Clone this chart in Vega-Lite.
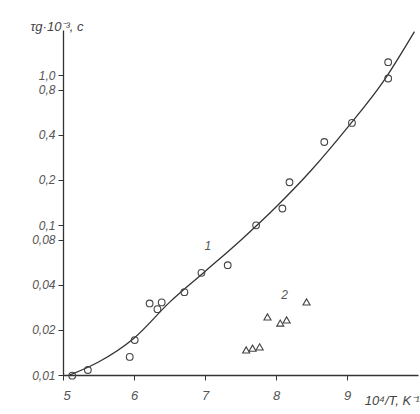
{
  "$schema": "https://vega.github.io/schema/vega-lite/v6.json",
  "autosize": "none",
  "width": 355,
  "height": 345,
  "padding": {"left": 63, "top": 30, "right": 2, "bottom": 39},
  "background": "white",
  "config": {
    "view": {"stroke": null},
    "font": "Liberation Sans",
    "axis": {"grid": false, "domainColor": "#333", "tickColor": "#333", "labelColor": "#555", "titleColor": "#444", "labelFont": "Liberation Sans", "labelFontStyle": "italic", "labelFontSize": 12, "titleFont": "Liberation Sans", "titleFontStyle": "italic", "titleFontWeight": "normal", "titleFontSize": 13, "domainWidth": 1.3, "tickSize": 5}
  },
  "datasets": {
    "curve": [
      {"x": 5.05, "y": 0.0098}, {"x": 5.5, "y": 0.0122}, {"x": 6.0, "y": 0.0176}, {"x": 6.5, "y": 0.0305},
      {"x": 7.0, "y": 0.049}, {"x": 7.5, "y": 0.079}, {"x": 8.0, "y": 0.132}, {"x": 8.5, "y": 0.233},
      {"x": 9.0, "y": 0.443}, {"x": 9.5, "y": 0.89}, {"x": 9.95, "y": 1.95}
    ],
    "circles": [
      {"x": 5.13, "y": 0.0099}, {"x": 5.35, "y": 0.0108}, {"x": 5.94, "y": 0.0132}, {"x": 6.01, "y": 0.0171},
      {"x": 6.22, "y": 0.030}, {"x": 6.39, "y": 0.0305}, {"x": 6.33, "y": 0.0275},
      {"x": 6.71, "y": 0.0357}, {"x": 6.95, "y": 0.048}, {"x": 7.32, "y": 0.054},
      {"x": 7.72, "y": 0.0996}, {"x": 8.09, "y": 0.129}, {"x": 8.19, "y": 0.193}, {"x": 8.68, "y": 0.358},
      {"x": 9.07, "y": 0.48}, {"x": 9.58, "y": 0.95}, {"x": 9.58, "y": 1.22}
    ],
    "triangles": [
      {"x": 7.88, "y": 0.0244}, {"x": 8.15, "y": 0.0233}, {"x": 8.06, "y": 0.0222}, {"x": 8.43, "y": 0.0307},
      {"x": 7.58, "y": 0.0147}, {"x": 7.67, "y": 0.0151}, {"x": 7.77, "y": 0.0154}
    ],
    "labels": [
      {"x": 7.04, "y": 0.0724, "t": "1"}, {"x": 8.12, "y": 0.0341, "t": "2"}
    ]
  },
  "encoding": {
    "x": {"field": "x", "type": "quantitative", "scale": {"domain": [5, 10], "nice": false, "zero": false},
      "axis": {"values": [5, 6, 7, 8, 9], "format": "d", "title": "10⁴/T, K⁻¹", "titleAnchor": "end", "titleAlign": "right", "titleBaseline": "alphabetic", "titleX": 356, "titleY": 29, "labelPadding": 9, "labelFontSize": 13}},
    "y": {"field": "y", "type": "quantitative", "scale": {"type": "log", "domain": [0.01, 2], "nice": false},
      "axis": {"values": [0.01, 0.02, 0.04, 0.08, 0.1, 0.2, 0.4, 0.8, 1.0],
        "labelExpr": "datum.value >= 0.1 ? replace(format(datum.value, '.1f'), '.', ',') : replace(format(datum.value, '.2f'), '.', ',')",
        "title": "τg·10⁻³, c", "titleAngle": 0, "titleAlign": "left", "titleBaseline": "alphabetic", "titleX": -33, "titleY": 0, "labelPadding": 3}}
  },
  "layer": [
    {"data": {"name": "curve"}, "mark": {"type": "line", "interpolate": "monotone", "color": "#333", "strokeWidth": 1.3, "clip": true}},
    {"data": {"name": "circles"}, "mark": {"type": "point", "shape": "circle", "filled": false, "size": 45, "color": "#444", "strokeWidth": 1.1, "opacity": 1}},
    {"data": {"name": "triangles"}, "mark": {"type": "point", "shape": "triangle-up", "filled": false, "size": 50, "color": "#444", "strokeWidth": 1.1, "opacity": 1}},
    {"data": {"name": "labels"}, "mark": {"type": "text", "fontStyle": "italic", "fontSize": 12, "color": "#555"}, "encoding": {"text": {"field": "t"}}}
  ]
}
